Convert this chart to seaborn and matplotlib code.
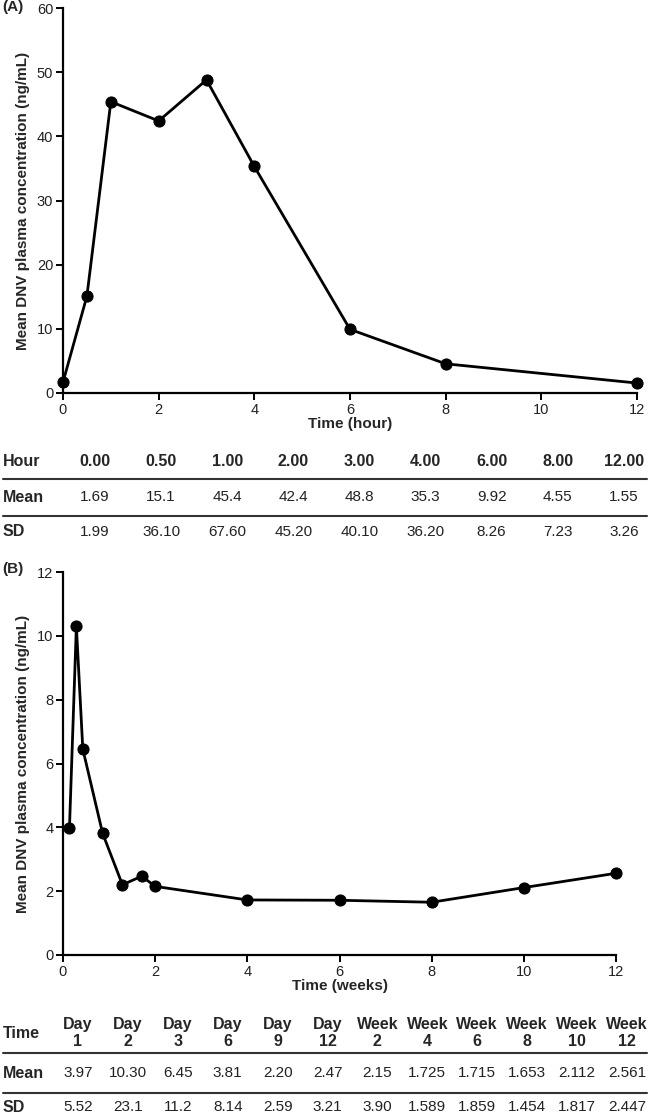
import numpy as np
import pandas as pd
import seaborn as sns
from matplotlib import pyplot as plt
from matplotlib.lines import Line2D

# panel A - hours
hours = [0.0, 0.5, 1.0, 2.0, 3.0, 4.0, 6.0, 8.0, 12.0]
hour_labels = ['0.00', '0.50', '1.00', '2.00', '3.00', '4.00', '6.00', '8.00', '12.00']
mean_a = [1.69, 15.1, 45.4, 42.4, 48.8, 35.3, 9.92, 4.55, 1.55]
mean_a_txt = ['1.69', '15.1', '45.4', '42.4', '48.8', '35.3', '9.92', '4.55', '1.55']
sd_a_txt = ['1.99', '36.10', '67.60', '45.20', '40.10', '36.20', '8.26', '7.23', '3.26']

# panel B - weeks
weeks = [0.14, 0.29, 0.43, 0.86, 1.29, 1.71, 2.0, 4.0, 6.0, 8.0, 10.0, 12.0]
week_labels = ['Day\n1', 'Day\n2', 'Day\n3', 'Day\n6', 'Day\n9', 'Day\n12',
               'Week\n2', 'Week\n4', 'Week\n6', 'Week\n8', 'Week\n10', 'Week\n12']
mean_b = [3.97, 10.30, 6.45, 3.81, 2.20, 2.47, 2.15, 1.725, 1.715, 1.653, 2.112, 2.561]
mean_b_txt = ['3.97', '10.30', '6.45', '3.81', '2.20', '2.47', '2.15', '1.725', '1.715', '1.653', '2.112', '2.561']
sd_b_txt = ['5.52', '23.1', '11.2', '8.14', '2.59', '3.21', '3.90', '1.589', '1.859', '1.454', '1.817', '2.447']

sns.set_style("ticks")
plt.rcParams['font.family'] = ['Liberation Sans Narrow', 'Liberation Sans', 'DejaVu Sans']

W, H = 650, 1115
fig = plt.figure(figsize=(W / 100, H / 100), dpi=100)


def fx(px):
    return px / W


def fy(py):
    return 1 - py / H


def line_plot(ax, x, y, xlab, ylim, ystep):
    df = pd.DataFrame({'x': x, 'y': y})
    sns.lineplot(data=df, x='x', y='y', ax=ax, color='black', linewidth=2.0,
                 marker='o', markersize=8, markeredgecolor='black', clip_on=False)
    ax.set_xlim(0, 12)
    ax.set_ylim(0, ylim)
    ax.set_xticks(np.arange(0, 13, 2))
    ax.set_yticks(np.arange(0, ylim + 1, ystep))
    sns.despine(ax=ax)
    for s in ['left', 'bottom']:
        ax.spines[s].set_linewidth(1.6)
        ax.spines[s].set_color('black')
    ax.tick_params(width=1.4, length=5, labelsize=10.5, color='black', labelcolor='#222222', pad=2)
    ax.set_xlabel(xlab, fontsize=11, fontweight='bold', labelpad=0)
    ax.set_ylabel('Mean DNV plasma concentration (ng/mL)', fontsize=11,
                  fontweight='bold', labelpad=5)


def table(row_first, headers, means, sds, x0, dx, y_head, y_l1, y_mean, y_l2, y_sd):
    fig.text(fx(3), fy(y_head), row_first, ha='left', va='center',
             fontsize=11.5, fontweight='bold')
    fig.text(fx(3), fy(y_mean), 'Mean', ha='left', va='center', fontsize=11.5, fontweight='bold')
    fig.text(fx(3), fy(y_sd), 'SD', ha='left', va='center', fontsize=11.5, fontweight='bold')
    for i, (h, m, s) in enumerate(zip(headers, means, sds)):
        cx = fx(x0 + dx * i)
        fig.text(cx, fy(y_head), h, ha='center', va='center', fontsize=11.5,
                 fontweight='bold', linespacing=1.15)
        fig.text(cx, fy(y_mean), m, ha='center', va='center', fontsize=11, color='#222222')
        fig.text(cx, fy(y_sd), s, ha='center', va='center', fontsize=11, color='#222222')
    for yl in [y_l1, y_l2]:
        fig.add_artist(Line2D([fx(3), fx(647)], [fy(yl), fy(yl)], color='#333333', lw=1.5))


# panel A
ax_a = fig.add_axes([fx(63), fy(393), fx(637 - 63), (393 - 8) / H])
line_plot(ax_a, hours, mean_a, 'Time (hour)', 60, 10)
fig.text(fx(2), fy(7), '(A)', ha='left', va='center', fontsize=11, fontweight='bold')
table('Hour', hour_labels, mean_a_txt, sd_a_txt, 95, 66.1, 461, 479, 497, 516, 532)

# panel B
ax_b = fig.add_axes([fx(63), fy(955), fx(616 - 63), (955 - 572) / H])
line_plot(ax_b, weeks, mean_b, 'Time (weeks)', 12, 2)
fig.text(fx(2), fy(569), '(B)', ha='left', va='center', fontsize=11, fontweight='bold')
table('Time', week_labels, mean_b_txt, sd_b_txt, 78, 49.9, 1033, 1053, 1073, 1093, 1107)

fig.savefig('out.png', dpi=100)
